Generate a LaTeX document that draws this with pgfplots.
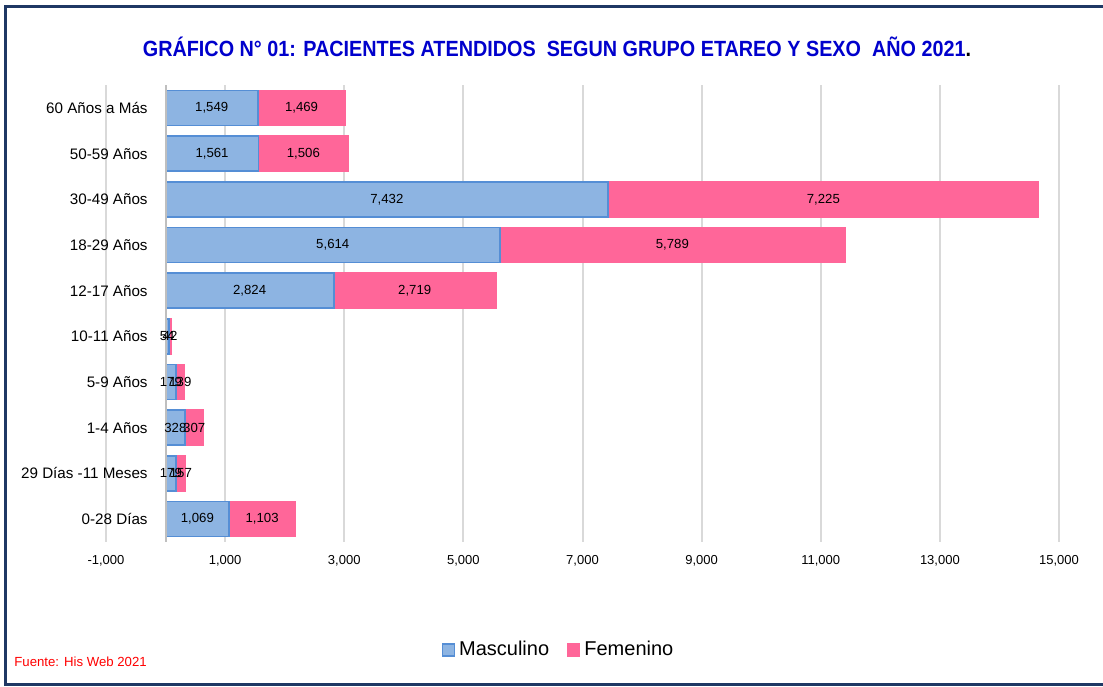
\documentclass[border=0pt]{standalone}
\usepackage{fontspec}
\setmainfont{Liberation Sans}
\newfontfamily\titlefont[FakeStretch=0.9]{Liberation Sans}
\usepackage{pgfplots}
\pgfplotsset{compat=1.18}
\definecolor{masc}{HTML}{8DB4E2}
\definecolor{mascedge}{HTML}{558ED5}
\definecolor{fem}{HTML}{FF6699}
\definecolor{framec}{HTML}{1F3864}
\definecolor{titleblue}{HTML}{0000CC}
\definecolor{gridgray}{HTML}{D9D9D9}
\begin{document}
\begin{tikzpicture}
\path[use as bounding box] (0,0) rectangle (551.5pt,343pt);
\draw[framec, line width=1.5pt] (560pt,339.5pt) -- (2.5pt,339.5pt) -- (2.5pt,1pt) -- (560pt,1pt);
\node[anchor=center, inner sep=0pt] at (278.5pt,319.5pt) {\titlefont\bfseries\fontsize{11}{13}\selectfont\textcolor{titleblue}{GRÁFICO N° 01: PACIENTES ATENDIDOS\ \ SEGUN GRUPO ETAREO Y SEXO\ \ AÑO 2021}.};
\node[anchor=west, inner sep=0pt, text=red, font=\fontsize{6.6}{8}\selectfont] at (7pt,12pt) {Fuente: His Web 2021};
\begin{axis}[
  at={(53pt,72.1pt)}, anchor=south west, scale only axis,
  width=476.5pt, height=228.3pt,
  xbar stacked, bar width=17.5pt,
  xmin=-1000, xmax=15000, ymin=-0.5, ymax=9.5,
  xtick={-1000,1000,...,15000},
  scaled x ticks=false,
  /pgf/number format/assume math mode=true,
  /pgf/number format/1000 sep={,},
  /pgf/number format/fixed,
  xticklabel style={font=\fontsize{6.5}{8}\selectfont, inner sep=0pt, anchor=north, yshift=-6.6pt},
  ytick={0,...,9},
  yticklabels={0-28 Días, 29 Días -11 Meses, 1-4 Años, 5-9 Años, 10-11 Años, 12-17 Años, 18-29 Años, 30-49 Años, 50-59 Años, 60 Años a Más},
  yticklabel style={font=\fontsize{7.6}{9}\selectfont, inner sep=0pt, anchor=east, xshift=21pt},
  xtick style={draw=none}, ytick style={draw=none},
  xmajorgrids, grid style={gridgray, line width=1pt},
  axis line style={draw=none},
  legend style={at={(0.476,-0.237)}, anchor=center, draw=none, legend columns=2,
    font=\fontsize{10}{12}\selectfont,
    /tikz/every even column/.append style={column sep=7pt}},
  legend image code/.code={\path[#1, line width=0.6pt] (0pt,-3pt) rectangle (6pt,3pt);},
]
\draw[color=black!25, line width=1pt] (axis cs:0,-0.5) -- (axis cs:0,9.5);
\addplot[fill=masc, draw=mascedge, line width=0.9pt] coordinates {(1069,0) (179,1) (328,2) (179,3) (54,4) (2824,5) (5614,6) (7432,7) (1561,8) (1549,9)};
\addplot[fill=fem, draw=fem, line width=0.9pt] coordinates {(1103,0) (157,1) (307,2) (139,3) (42,4) (2719,5) (5789,6) (7225,7) (1506,8) (1469,9)};
\legend{Masculino, Femenino}
\end{axis}
\begin{axis}[
  at={(53pt,72.1pt)}, anchor=south west, scale only axis,
  width=476.5pt, height=228.3pt,
  xmin=-1000, xmax=15000, ymin=-0.5, ymax=9.5, hide axis,
]
\addplot[draw=none, mark=none, nodes near coords, point meta=explicit symbolic,
  every node near coord/.append style={anchor=center, inner sep=0pt, font=\fontsize{6.6}{8}\selectfont, text=black}]
  coordinates {
  (534.5,0) [1{,}069] (89.5,1) [179] (164,2) [328] (89.5,3) [179] (27,4) [54]
  (1412,5) [2{,}824] (2807,6) [5{,}614] (3716,7) [7{,}432] (780.5,8) [1{,}561] (774.5,9) [1{,}549]
  (1620.5,0) [1{,}103] (257.5,1) [157] (481.5,2) [307] (248.5,3) [139] (75,4) [42]
  (4183.5,5) [2{,}719] (8508.5,6) [5{,}789] (11044.5,7) [7{,}225] (2314,8) [1{,}506] (2283.5,9) [1{,}469]
  };
\end{axis}
\end{tikzpicture}
\end{document}
